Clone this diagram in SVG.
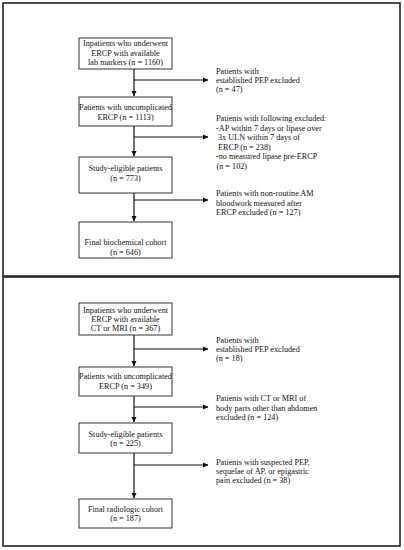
<svg xmlns="http://www.w3.org/2000/svg" width="404" height="550" viewBox="0 0 404 550">
<defs>
<marker id="ah" markerWidth="6" markerHeight="6" refX="5" refY="3" orient="auto" markerUnits="userSpaceOnUse">
<path d="M0,0.5 L5.5,3 L0,5.5 Z" fill="#111"/>
</marker>
<style>
.panel{fill:#fff;stroke:#222;stroke-width:1.6}
.box{fill:#fff;stroke:#333;stroke-width:1}
.t{font-family:"Liberation Serif","Times New Roman",serif;font-size:8.2px;fill:#111}
.c{text-anchor:middle}
.ln{fill:none;stroke:#111;stroke-width:1.2}
</style>
</defs>
<rect width="404" height="550" fill="#fff"/>
<rect class="panel" x="3" y="3" width="397" height="273"/>
<rect class="panel" x="3" y="277" width="397" height="269"/>

<g id="connectors">
<line class="ln" x1="134" y1="69" x2="134" y2="96" marker-end="url(#ah)"/>
<line class="ln" x1="134" y1="80" x2="208" y2="80" marker-end="url(#ah)"/>
<line class="ln" x1="134" y1="126" x2="134" y2="156" marker-end="url(#ah)"/>
<line class="ln" x1="134" y1="137" x2="208" y2="137" marker-end="url(#ah)"/>
<line class="ln" x1="134" y1="193" x2="134" y2="221" marker-end="url(#ah)"/>
<line class="ln" x1="134" y1="200" x2="208" y2="200" marker-end="url(#ah)"/>
<line class="ln" x1="134" y1="335" x2="134" y2="366" marker-end="url(#ah)"/>
<line class="ln" x1="134" y1="349" x2="208" y2="349" marker-end="url(#ah)"/>
<line class="ln" x1="134" y1="396" x2="134" y2="422" marker-end="url(#ah)"/>
<line class="ln" x1="134" y1="407" x2="208" y2="407" marker-end="url(#ah)"/>
<line class="ln" x1="134" y1="453" x2="134" y2="498" marker-end="url(#ah)"/>
<line class="ln" x1="134" y1="465" x2="208" y2="465" marker-end="url(#ah)"/>
</g>

<g id="b1">
<rect class="box" x="79" y="38" width="93" height="31"/>
<text class="t c" x="125.5" y="46">Inpatients who underwent</text>
<text class="t c" x="125.5" y="55.5">ERCP with available</text>
<text class="t c" x="125.5" y="65">lab markers (n = 1160)</text>
</g>
<g id="e1">
<text class="t" x="216" y="74">Patients with</text>
<text class="t" x="216" y="83">established PEP excluded</text>
<text class="t" x="216" y="92">(n = 47)</text>
</g>
<g id="b2">
<rect class="box" x="79" y="97" width="93" height="29"/>
<text class="t c" x="125.5" y="110">Patients with uncomplicated</text>
<text class="t c" x="125.5" y="119.5">ERCP (n = 1113)</text>
</g>
<g id="e2">
<text class="t" x="216" y="121">Patients with following excluded:</text>
<text class="t" x="216" y="130.5">-AP within 7 days or lipase over</text>
<text class="t" x="218" y="140">3x ULN within 7 days of</text>
<text class="t" x="218" y="149.5">ERCP (n = 238)</text>
<text class="t" x="216" y="159">-no measured lipase pre-ERCP</text>
<text class="t" x="216.5" y="168.5">(n = 102)</text>
</g>
<g id="b3">
<rect class="box" x="79" y="157" width="93" height="36"/>
<text class="t c" x="125.5" y="171">Study-eligible patients</text>
<text class="t c" x="125.5" y="180.5">(n = 773)</text>
</g>
<g id="e3">
<text class="t" x="216" y="196">Patients with non-routine AM</text>
<text class="t" x="216" y="205.5">bloodwork measured after</text>
<text class="t" x="216" y="215">ERCP excluded (n = 127)</text>
</g>
<g id="b4">
<rect class="box" x="79" y="222" width="93" height="36"/>
<text class="t c" x="125.5" y="245">Final biochemical cohort</text>
<text class="t c" x="125.5" y="254.5">(n = 646)</text>
</g>

<g id="r1">
<rect class="box" x="79" y="303" width="93" height="32"/>
<text class="t c" x="125.5" y="313">Inpatients who underwent</text>
<text class="t c" x="125.5" y="322">ERCP with available</text>
<text class="t c" x="125.5" y="331">CT or MRI (n = 367)</text>
</g>
<g id="re1">
<text class="t" x="216" y="343">Patients with</text>
<text class="t" x="216" y="352">established PEP excluded</text>
<text class="t" x="216" y="361">(n = 18)</text>
</g>
<g id="r2">
<rect class="box" x="79" y="367" width="93" height="29"/>
<text class="t c" x="125.5" y="379">Patients with uncomplicated</text>
<text class="t c" x="125.5" y="388.5">ERCP (n = 349)</text>
</g>
<g id="re2">
<text class="t" x="216" y="401">Patients with CT or MRI of</text>
<text class="t" x="216" y="410.5">body parts other than abdomen</text>
<text class="t" x="216" y="420">excluded (n = 124)</text>
</g>
<g id="r3">
<rect class="box" x="79" y="423" width="93" height="30"/>
<text class="t c" x="125.5" y="437">Study-eligible patients</text>
<text class="t c" x="125.5" y="446">(n = 225)</text>
</g>
<g id="re3">
<text class="t" x="216" y="465">Patients with suspected PEP,</text>
<text class="t" x="216" y="474">sequelae of AP, or epigastric</text>
<text class="t" x="216" y="483">pain excluded (n = 38)</text>
</g>
<g id="r4">
<rect class="box" x="79" y="499" width="93" height="29"/>
<text class="t c" x="125.5" y="512">Final radiologic cohort</text>
<text class="t c" x="125.5" y="521">(n = 187)</text>
</g>
</svg>
